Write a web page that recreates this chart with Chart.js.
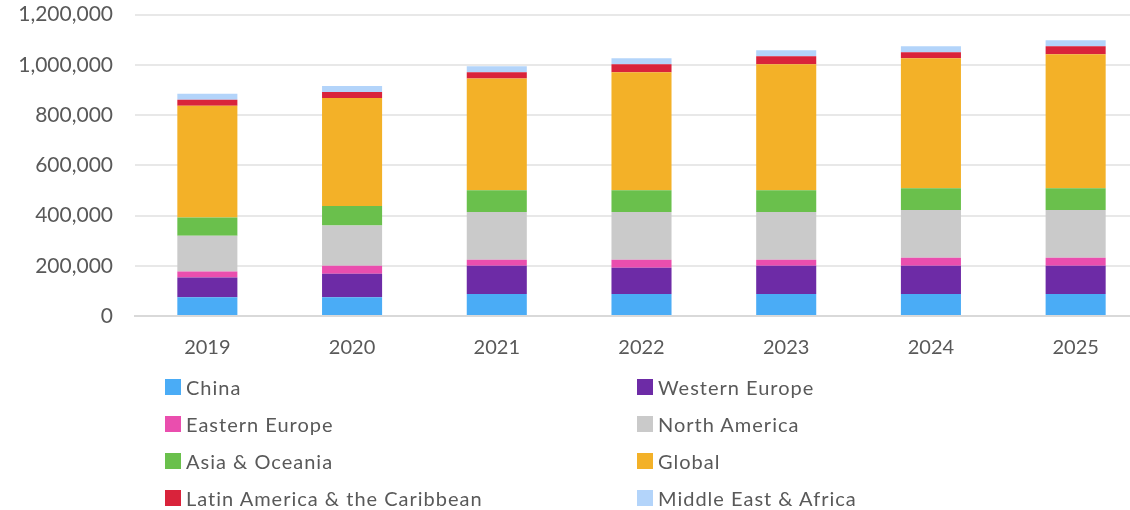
<!DOCTYPE html>
<html>
<head>
<meta charset="utf-8">
<script src="https://cdn.jsdelivr.net/npm/chart.js@4.4.1/dist/chart.umd.min.js"></script>
<style>
  html, body { margin: 0; padding: 0; background: #fff; overflow: hidden; width: 1130px; height: 510px; }
  #wrap { position: absolute; left: 0; top: -20px; width: 1148px; height: 400px; }
  #legend { position: absolute; left: 165px; top: 368px; width: 960px;
    display: grid; grid-template-columns: 472px 400px; grid-auto-rows: 37px;
    font-family: Lato, "Open Sans", sans-serif; font-size: 20px; letter-spacing: 1px; color: #595959; }
  #legend .item { display: flex; align-items: center; height: 37px; }
  #legend .box { width: 16px; height: 16px; margin-right: 5px; flex: none; }
</style>
</head>
<body>
<div id="wrap"><canvas id="chart"></canvas></div>
<div id="legend"></div>
<script>
// years on the x axis
const years = ['2019', '2020', '2021', '2022', '2023', '2024', '2025'];

// region values, stacked bottom to top
const china         = [75000, 75000, 88000, 88000, 88000, 88000, 88000];
const westernEurope = [78000, 93000, 112000, 104000, 112000, 112000, 112000];
const easternEurope = [24000, 32000, 24000, 32000, 24000, 32000, 32000];
const northAmerica  = [143000, 160000, 190000, 190000, 190000, 190000, 190000];
const asiaOceania   = [72000, 78000, 87000, 87000, 87000, 87000, 87000];
const global        = [445000, 430000, 445000, 469000, 501000, 517000, 533000];
const latinAmerica  = [24000, 24000, 24000, 32000, 32000, 24000, 32000];
const middleEast    = [24000, 24000, 24000, 24000, 24000, 24000, 24000];

const yTicks = [0, 200000, 400000, 600000, 800000, 1000000, 1200000];

const series = [
  { label: 'China', data: china, color: '#4aacf6' },
  { label: 'Western Europe', data: westernEurope, color: '#6d2ba6' },
  { label: 'Eastern Europe', data: easternEurope, color: '#ea4eae' },
  { label: 'North America', data: northAmerica, color: '#cacaca' },
  { label: 'Asia & Oceania', data: asiaOceania, color: '#6ac04c' },
  { label: 'Global', data: global, color: '#f3b128' },
  { label: 'Latin America & the Caribbean', data: latinAmerica, color: '#d9233b' },
  { label: 'Middle East & Africa', data: middleEast, color: '#b3d4fa' }
];

const font = { family: 'Lato, "Open Sans", sans-serif', size: 20 };

const chart = new Chart(document.getElementById('chart'), {
  type: 'bar',
  data: {
    labels: years,
    datasets: series.map(s => ({
      label: s.label,
      data: s.data,
      backgroundColor: s.color,
      borderWidth: 0,
      barPercentage: 0.415,
      categoryPercentage: 1
    }))
  },
  options: {
    responsive: true,
    maintainAspectRatio: false,
    animation: false,
    layout: { padding: { top: 3, right: 0, bottom: 0, left: 0 } },
    plugins: {
      legend: { display: false },
      tooltip: { enabled: false }
    },
    scales: {
      x: {
        stacked: true,
        grid: { display: false, drawTicks: false },
        border: { color: '#d9d9d9', width: 2 },
        ticks: { color: '#595959', font: font, padding: 20 }
      },
      y: {
        stacked: true,
        min: 0,
        max: 1200000,
        afterFit: scale => { scale.width = 135; },
        afterBuildTicks: scale => { scale.ticks = yTicks.map(v => ({ value: v })); },
        grid: { color: '#e8e8e8', lineWidth: 2, drawTicks: false },
        border: { display: false },
        ticks: {
          color: '#595959',
          font: { family: font.family, size: 21 },
          padding: 22,
          callback: v => v.toLocaleString('en-US')
        }
      }
    }
  }
});

// legend in two columns, same order as the datasets
const legendDiv = document.getElementById('legend');
chart.data.datasets.forEach(ds => {
  const item = document.createElement('div');
  item.className = 'item';
  item.innerHTML = `<span class="box" style="background:${ds.backgroundColor}"></span><span>${ds.label.replace(/&/g, '&amp;')}</span>`;
  legendDiv.appendChild(item);
});
</script>
</body>
</html>
